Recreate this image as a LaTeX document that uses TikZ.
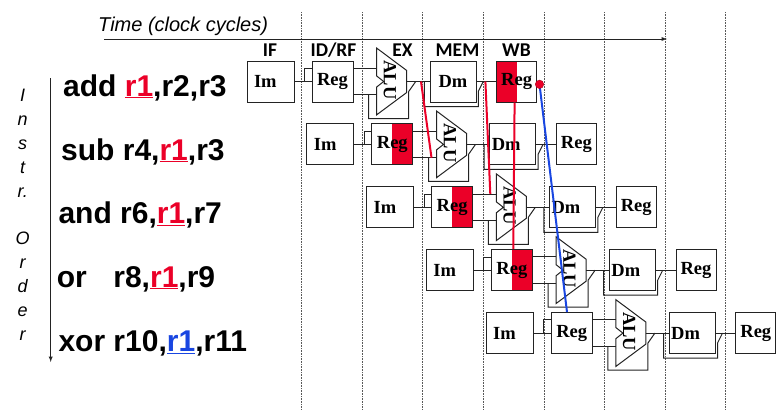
\documentclass[tikz,border=0pt]{standalone}
\usepackage{fontspec}
\setmainfont{Liberation Serif}
\newfontfamily\arialf{Liberation Sans}
\newfontfamily\calibf{Carlito}
\usetikzlibrary{arrows}
\usetikzlibrary{positioning}
\definecolor{hazred}{RGB}{235, 0, 40}
\definecolor{fwdblue}{RGB}{25, 70, 225}
\definecolor{wiregray}{RGB}{35, 35, 35}
\newcommand{\regmark}[2]{\textcolor{#1}{\underline{#2}}}
\tikzset{unit/.style = {draw=wiregray, fill=white, line width=1pt, minimum height=41pt, inner sep=0, font=\bfseries\fontsize{18.5}{19}\selectfont}}
\tikzset{imbox/.style = {unit, inner xsep=7pt, text width=33pt, align=left}}
\tikzset{regbox/.style = {unit, minimum width=41pt}}
\tikzset{dmbox/.style = {unit, inner xsep=2pt, text width=42pt}}
\tikzset{rdhalf/.style = {path picture={\fill[hazred] (path picture bounding box.north) rectangle (path picture bounding box.south east);}}}
\tikzset{wrhalf/.style = {path picture={\fill[hazred] (path picture bounding box.north west) rectangle (path picture bounding box.south);}}}
\tikzset{plain/.style = {}}
\tikzset{alutext/.style = {rotate=-90, inner sep=0, font=\bfseries\fontsize{18.5}{19}\selectfont}}
\tikzset{wire/.style = {draw=wiregray, line width=1pt}}
\tikzset{hazard/.style = {line width=2pt}}
\tikzset{cyc/.style = {gray!70!black, line width=0.5pt, dash pattern=on 0.8pt off 0.8pt}}
\tikzset{instr/.style = {anchor=base west, inner sep=0, font=\arialf\bfseries\fontsize{30}{36}\selectfont}}
\tikzset{circ/.style = {fill=hazred, draw=hazred!70!black, circle, inner sep=0, minimum size=8.5pt}}

\begin{document}
\begin{tikzpicture}[x=1pt, y=-1pt]
    \useasboundingbox (0, 0) rectangle (782, 416);
    % clock cycle boundaries
    \foreach \k in {0,...,7}
      \draw [cyc] (301.5 + 60.6*\k, 12) -- (301.5 + 60.6*\k, 410);
    \coordinate (t0) at (104, 39);
    \coordinate (t1) at (667, 39);
    \draw [-latex, wiregray, line width=0.9pt] (t0) -- (t1);
    \node [anchor=base west, inner sep=0, font=\arialf\itshape\fontsize{20}{24}\selectfont] (tlabel) at (98, 31) {Time (clock cycles)};
    \foreach \x/\s [count=\n] in {270/IF, 333.5/{ID/RF}, 402.5/EX, 457.5/MEM, 516.5/WB}
      \node [anchor=base, inner sep=0, font=\calibf\bfseries\fontsize{19.5}{20}\selectfont] (stage\n) at (\x, 56) {\s};

    % instruction order
    \coordinate (o0) at (50.7, 78);
    \coordinate (o1) at (50.7, 362);
    \draw [-latex, wiregray, line width=0.9pt] (o0) -- (o1);
    \node [anchor=north, align=center, inner sep=0, font=\arialf\itshape\fontsize{18}{23.9}\selectfont] (order) at (22.7, 89) {I\\n\\s\\t\\r.\\[23.9pt]O\\r\\d\\e\\r};

    \node [instr] (ins1) at (63, 96) {add \regmark{hazred}{r1},r2,r3};
    \node [instr] (ins2) at (61, 160) {sub r4,\regmark{hazred}{r1},r3};
    \node [instr] (ins3) at (58.3, 223.3) {and r6,\regmark{hazred}{r1},r7};
    \node [instr] (ins4) at (56.7, 287) {or\hspace{26.5pt}r8,\regmark{hazred}{r1},r9};
    \node [instr] (ins5) at (58.3, 351.7) {xor r10,\regmark{fwdblue}{r1},r11};

    % pipeline rows
    \foreach \i/\dal/\idf/\wbf in {0/center/plain/wrhalf, 1/left/rdhalf/plain, 2/left/rdhalf/plain, 3/left/rdhalf/plain, 4/left/plain/plain} {
      \begin{scope}[shift={(59.8*\i, 62.9*\i)}]
        \node [imbox] (im\i) at (270.5, 81.5) {Im};
        \node [regbox, \idf] (rid\i) at (332.5, 81.5) {Reg};
        \node [dmbox, align=\dal] (dm\i) at (453, 81.5) {Dm};
        \node [regbox, minimum width=40pt, \wbf] (rwb\i) at (516.6, 81.5) {Reg};
        \draw [wire, fill=white] (376.7, 48.1) -- (406.7, 70.5) -- (406.7, 92.5) -- (376.7, 114.8) -- (376.7, 87) -- (383.7, 81.5) -- (376.7, 76) -- cycle;
        \node [alutext] (alu\i) at (390, 80) {ALU};
        \coordinate (ain\i) at (376.7, 68.2);
        \coordinate (bin\i) at (376.7, 94.8);
        \coordinate (aout\i) at (406.7, 81.5);
        \draw [wire] (im\i) -- (rid\i);
        \draw [wire] ([xshift=-7pt]rid\i.west) |- ([yshift=13.2pt]rid\i.west);
        \draw [wire] (rid\i.east |- ain\i) -- (ain\i);
        \draw [wire] (rid\i.east |- bin\i) -- (bin\i);
        \draw [wire] (368.7, 94.8) -- (368.7, 118.5) -- (408.7, 118.5) -- (408.7, 91.5) -- (415.7, 81.5);
        \draw [wire] (aout\i) -- (dm\i);
        \draw [wire] (424.3, 81.5) -- (424.3, 106.5) -- (478.3, 106.5) -- (478.3, 91.5) -- (483.3, 81.5);
        \draw [wire] (dm\i) -- (rwb\i);
      \end{scope}
    }

    % dependences on r1
    \draw [hazard, hazred] ([xshift=14.3pt]aout0) -- ([xshift=-5pt]bin1);
    \draw [hazard, hazred] ([xshift=-10.7pt]rwb0.west) -- ([xshift=-6pt]ain2);
    \draw [hazard, hazred] ([xshift=-2pt]rwb0.south) -- ([xshift=1.4pt]rid3.north);
    \coordinate (wpt) at (539.5, 84.3);
    \draw [hazard, fwdblue] (wpt) -- ([xshift=-4.7pt]rid4.north);
    \node [circ] (wdot) at (wpt) {};
  \end{tikzpicture}
\end{document}
